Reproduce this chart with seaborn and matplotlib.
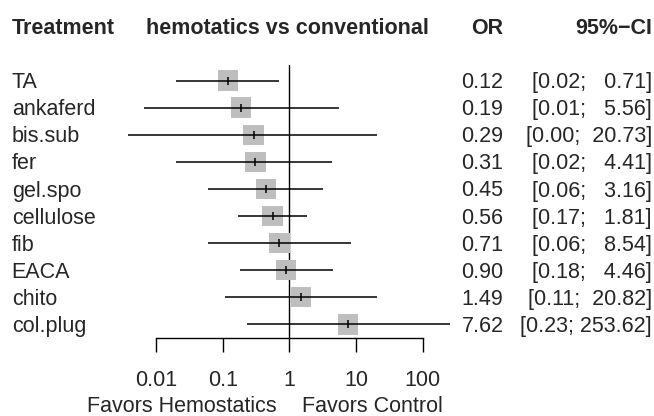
import matplotlib
matplotlib.use("Agg")
import matplotlib.pyplot as plt
import matplotlib.transforms as mtransforms
import seaborn as sns
import pandas as pd

### Data
treatments = ["TA", "ankaferd", "bis.sub", "fer", "gel.spo",
              "cellulose", "fib", "EACA", "chito", "col.plug"]
odds_ratio = [0.12, 0.19, 0.29, 0.31, 0.45, 0.56, 0.71, 0.90, 1.49, 7.62]
ci_lower = [0.02, 0.0065, 0.0038, 0.02, 0.06, 0.17, 0.06, 0.18, 0.11, 0.23]
ci_upper = [0.71, 5.56, 20.73, 4.41, 3.16, 1.81, 8.54, 4.46, 20.82, 253.62]
tick_values = [0.01, 0.1, 1, 10, 100]
tick_labels = ["0.01", "0.1", "1", "10", "100"]
headers = ["Treatment", "hemotatics vs conventional", "OR", "95%\u2212CI"]
label_left = "Favors Hemostatics"
label_right = "Favors Control"

df = pd.DataFrame({"treatment": treatments, "OR": odds_ratio,
                   "lower": ci_lower, "upper": ci_upper})
df["row"] = range(len(df))

sns.set_theme(style="white")
plt.rcParams["font.family"] = ["Liberation Sans", "DejaVu Sans"]
plt.rcParams["font.size"] = 15.5

W, H = 654, 416
fig = plt.figure(figsize=(W / 100, H / 100), dpi=100)
# axes spans exactly 0.01 .. 100 on x, from ref-line top to axis line on y
ax = fig.add_axes([156 / W, 1 - 337.7 / H, (422.7 - 156) / W, (337.7 - 65) / H])
ax.set_xscale("log")
ax.set_xlim(0.01, 100)
row_px = 27.1
ax.set_ylim((337.7 - 80.5) / row_px, (65 - 80.5) / row_px)

# grey squares
sns.scatterplot(data=df, x="OR", y="row", marker="s", s=215, color="#bebebe",
                edgecolor="none", linewidth=0, ax=ax, zorder=2, clip_on=False, legend=False)
# confidence intervals
ax.hlines(df["row"], df["lower"], df["upper"], color="black", lw=1.1, zorder=3, clip_on=False)
# point estimate tick
sns.scatterplot(data=df, x="OR", y="row", marker="|", s=40, color="black",
                linewidth=1.1, ax=ax, zorder=4, clip_on=False, legend=False)
# reference line
ax.axvline(1, color="black", lw=1.0, zorder=1)

for side in ["top", "right", "left"]:
    ax.spines[side].set_visible(False)
ax.spines["bottom"].set_color("black")
ax.spines["bottom"].set_linewidth(1.0)
ax.set_yticks([])
ax.set_xticks(tick_values, tick_labels)
ax.minorticks_off()
ax.tick_params(axis="x", direction="out", length=10, width=1.0, color="black",
               pad=13, labelsize=15.5, bottom=True)
ax.set_xlabel("")
ax.set_ylabel("")
ax.grid(False)

# text columns
trans = mtransforms.blended_transform_factory(fig.transFigure, ax.transData)
base = 7.6 / row_px
up_w = max(len(f"{u:.2f}") for u in ci_upper)
for i, r in df.iterrows():
    y = r["row"] + base
    ax.text(11.7 / W, y, r["treatment"], transform=trans, ha="left", va="baseline")
    ax.text(503.5 / W, y, f"{r['OR']:.2f}", transform=trans, ha="right", va="baseline")
    ci = "[" + f"{r['lower']:.2f}" + "; " + f"{r['upper']:.2f}".rjust(up_w) + "]"
    ax.text(652 / W, y, ci, transform=trans, ha="right", va="baseline")

hy = 1 - 34 / H
fig.text(11.7 / W, hy, headers[0], ha="left", va="baseline", fontweight="bold")
fig.text(287 / W, hy, headers[1], ha="center", va="baseline", fontweight="bold")
fig.text(503.5 / W, hy, headers[2], ha="right", va="baseline", fontweight="bold")
fig.text(652 / W, hy, headers[3], ha="right", va="baseline", fontweight="bold")

ly = 1 - 411.5 / H
fig.text(277 / W, ly, label_left, ha="right", va="baseline")
fig.text(302 / W, ly, label_right, ha="left", va="baseline")

fig.savefig("out.png", dpi=100, facecolor="white")
